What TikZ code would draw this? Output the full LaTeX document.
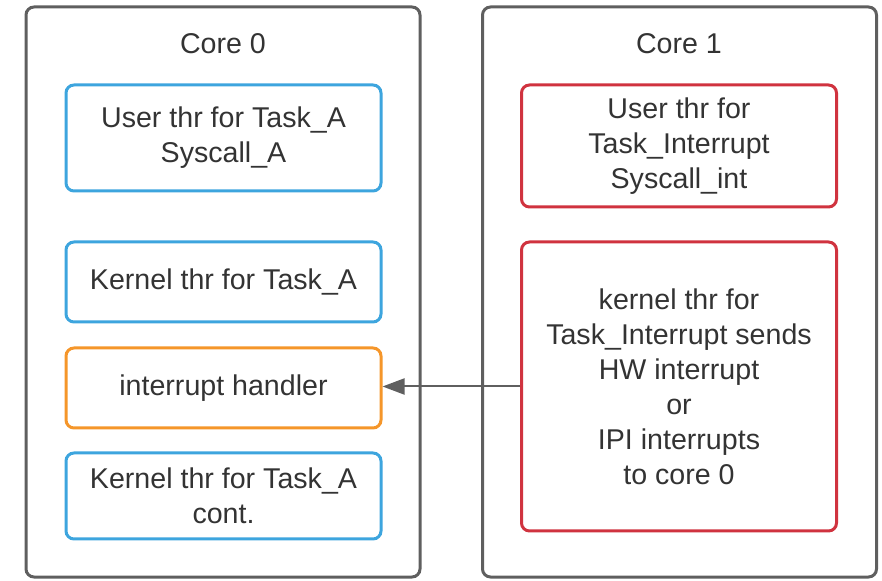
\documentclass[tikz,border=0pt]{standalone}
\usepackage{fontspec}
\setmainfont{Liberation Sans}
\usetikzlibrary{positioning,arrows.meta}

\definecolor{coregray}{HTML}{5F5F5F}
\definecolor{taskblue}{HTML}{3DA5DE}
\definecolor{irqorange}{HTML}{F5962A}
\definecolor{irqred}{HTML}{D0333F}
\definecolor{txtgray}{HTML}{333333}

\begin{document}
\begin{tikzpicture}[
  x=0.5pt, y=-0.5pt,
  core/.style={draw=coregray, rounded corners=4pt, line width=1.5pt, minimum width=197pt, minimum height=285pt, inner sep=0pt},
  title/.style={font=\fontsize{14.3}{17.5}\selectfont, text=txtgray, inner sep=0pt},
  thr/.style={draw=#1, rounded corners=4pt, line width=1.5pt, align=center, minimum width=157.5pt, font=\fontsize{14.3}{17.5}\selectfont, text=txtgray, inner sep=0pt},
  arr/.style={-{Triangle[length=11pt,width=8pt]}, draw=coregray, fill=coregray, line width=1pt}
]
\useasboundingbox (0,0) rectangle (882,581);

\node[core] (core0) at (223,292) {};
\node[core] (core1) at (679.5,292) {};
\node[title] (t0) at (223,44) {Core 0};
\node[title] (t1) at (679,44) {Core 1};

% core 0
\node[thr=taskblue, minimum height=53pt] (userA) at (223.5,138) {User thr for Task\_A\\Syscall\_A};
\node[thr=taskblue, minimum height=40pt, below=24pt of userA] (kernA) {Kernel thr for Task\_A};
\node[thr=irqorange, minimum height=40pt, below=11.5pt of kernA] (handler) {interrupt handler};
\node[thr=taskblue, minimum height=43pt, below=11pt of handler] (kernAc) {Kernel thr for Task\_A\\cont.};

% core 1
\node[thr=irqred, minimum height=61pt] (userI) at (679,146) {User thr for\\Task\_Interrupt\\Syscall\_int};
\node[thr=irqred, minimum height=144.5pt, below=16pt of userI] (kernI) {kernel thr for\\Task\_Interrupt sends\\HW interrupt\\or\\IPI interrupts\\to core 0};

\draw[arr] (kernI.west) -- (kernI.west -| handler.east);
\end{tikzpicture}
\end{document}
